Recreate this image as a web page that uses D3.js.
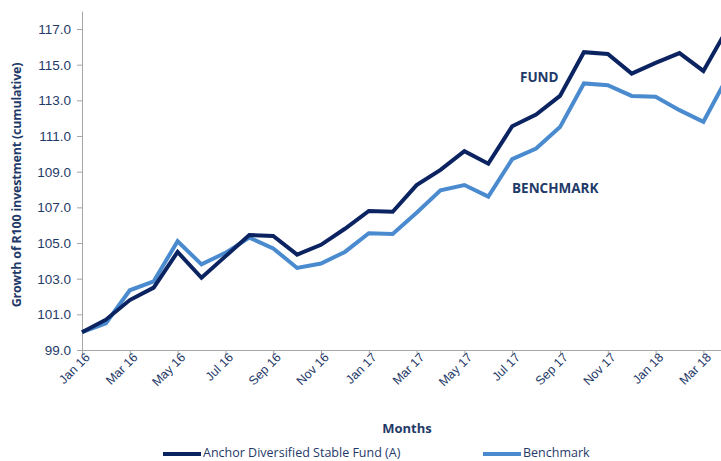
<!DOCTYPE html>
<html>
<head>
<meta charset="utf-8">
<script src="https://cdn.jsdelivr.net/npm/d3@7"></script>
<style>
  html, body { margin: 0; padding: 0; background: #fff; }
  svg { display: block; font-family: "Open Sans", "Noto Sans", sans-serif; }
</style>
</head>
<body>
<svg id="chart" width="721" height="461"></svg>
<script>
const months = ["Jan 16","Feb 16","Mar 16","Apr 16","May 16","Jun 16","Jul 16","Aug 16","Sep 16","Oct 16","Nov 16","Dec 16",
  "Jan 17","Feb 17","Mar 17","Apr 17","May 17","Jun 17","Jul 17","Aug 17","Sep 17","Oct 17","Nov 17","Dec 17",
  "Jan 18","Feb 18","Mar 18","Apr 18"];

const fund = [100.0, 100.7, 101.8, 102.5, 104.5, 103.05, 104.25, 105.45, 105.4, 104.35, 104.9, 105.8,
  106.8, 106.75, 108.25, 109.1, 110.15, 109.45, 111.55, 112.2, 113.25, 115.7, 115.6, 114.5,
  115.1, 115.65, 114.65, 117.0];

const benchmark = [100.0, 100.5, 102.35, 102.85, 105.1, 103.8, 104.45, 105.3, 104.7, 103.6, 103.85, 104.5,
  105.55, 105.5, 106.7, 107.95, 108.25, 107.6, 109.7, 110.3, 111.5, 113.95, 113.85, 113.25,
  113.2, 112.45, 111.8, 114.3];

const yTicks = [99, 101, 103, 105, 107, 109, 111, 113, 115, 117];

const svg = d3.select("#chart");
const navy = "#0B2461";
const blue = "#4A8BCF";
const textColor = "#1F3A68";

const x = d3.scaleLinear().domain([0, months.length - 1]).range([82, 82 + 27 * 23.9]);
const y = d3.scaleLinear().domain([99, 118]).range([350, 11.2]);

// axes
const xAxis = svg.append("g")
  .attr("transform", "translate(0,350)")
  .call(d3.axisBottom(x)
    .tickValues(d3.range(0, months.length, 2))
    .tickSize(5)
    .tickSizeOuter(0)
    .tickFormat(i => months[i]));
xAxis.select(".domain").attr("stroke", "#A6A6A6").attr("d", "M82,0.5H721");
xAxis.selectAll(".tick line").attr("stroke", "#A6A6A6");
xAxis.selectAll(".tick text")
  .attr("fill", textColor)
  .style("font-size", "12.5px")
  .attr("text-anchor", "end")
  .attr("transform", "translate(5,5) rotate(-45)")
  .attr("dy", "0.35em")
  .attr("y", 0).attr("x", 0);

const yAxis = svg.append("g")
  .attr("transform", "translate(82,0)")
  .call(d3.axisLeft(y)
    .tickValues(yTicks)
    .tickSize(5)
    .tickSizeOuter(0)
    .tickFormat(d3.format(".1f")));
yAxis.select(".domain").attr("stroke", "#A6A6A6");
yAxis.selectAll(".tick line").attr("stroke", "#A6A6A6");
yAxis.selectAll(".tick text")
  .attr("fill", textColor)
  .attr("x", -11)
  .style("font-size", "13.5px");

// lines
const line = d3.line()
  .x((d, i) => x(i))
  .y(d => y(d));

svg.append("path")
  .datum(benchmark)
  .attr("fill", "none")
  .attr("stroke", blue)
  .attr("stroke-width", 4)
  .attr("d", line);

svg.append("path")
  .datum(fund)
  .attr("fill", "none")
  .attr("stroke", navy)
  .attr("stroke-width", 4)
  .attr("d", line);

// series annotations
svg.append("text")
  .attr("x", 520).attr("y", 82)
  .attr("fill", textColor)
  .style("font-size", "13.5px")
  .style("font-weight", "bold")
  .text("FUND");

svg.append("text")
  .attr("x", 512).attr("y", 193)
  .attr("fill", textColor)
  .style("font-size", "13.5px")
  .style("font-weight", "bold")
  .text("BENCHMARK");

// axis titles
svg.append("text")
  .attr("x", 407).attr("y", 433)
  .attr("text-anchor", "middle")
  .attr("fill", textColor)
  .style("font-size", "13px")
  .style("font-weight", "bold")
  .text("Months");

svg.append("text")
  .attr("transform", "translate(21,185) rotate(-90)")
  .attr("text-anchor", "middle")
  .attr("fill", textColor)
  .style("font-size", "12.5px")
  .style("font-weight", "bold")
  .style("letter-spacing", "-0.2px")
  .text("Growth of R100 investment (cumulative)");

// legend
const legendItems = [
  { name: "Anchor Diversified Stable Fund (A)", color: navy, x: 163 },
  { name: "Benchmark", color: blue, x: 483 }
];
const legend = svg.append("g");
legendItems.forEach(item => {
  legend.append("line")
    .attr("x1", item.x).attr("x2", item.x + 38)
    .attr("y1", 454).attr("y2", 454)
    .attr("stroke", item.color)
    .attr("stroke-width", 4);
  legend.append("text")
    .attr("x", item.x + 40).attr("y", 453)
    .attr("dy", "0.35em")
    .attr("fill", textColor)
    .style("font-size", "12.5px")
    .text(item.name);
});
</script>
</body>
</html>
